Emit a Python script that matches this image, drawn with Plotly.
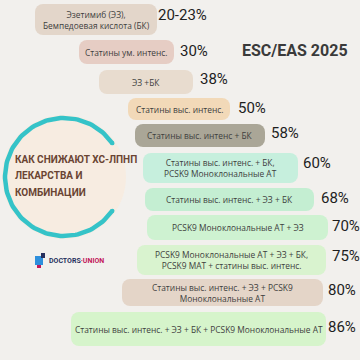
import numpy as np
import plotly.graph_objects as go

# ---------------- data ----------------
categories = [
    "Эзетимиб (ЭЗ),<br>Бемпедоевая кислота (БК)",
    "Статины ум. интенс.",
    "ЭЗ +БК",
    "Статины выс. интенс.",
    "Статины выс. интенс + БК",
    "Статины выс. интенс. + БК,<br>PCSK9 Моноклональные АТ",
    "Статины выс. интенс. + ЭЗ + БК",
    "PCSK9 Моноклональные АТ + ЭЗ",
    "PCSK9 Моноклональные АТ + ЭЗ + БК,<br>PCSK9 MAT + статины выс. интенс.",
    "Статины выс. интенс. + ЭЗ + PCSK9<br>Моноклональные АТ",
    "Статины выс. интенс. + ЭЗ + БК + PCSK9 Моноклональные АТ",
]
reduction_labels = ["20-23%", "30%", "38%", "50%", "58%", "60%", "68%", "70%", "75%", "80%", "86%"]
title_lines = ["КАК СНИЖАЮТ ХС-ЛПНП", "ЛЕКАРСТВА И", "КОМБИНАЦИИ"]
subtitle = "ESC/EAS 2025"

# ---------------- layout geometry (pixels) ----------------
bar_left = [35, 79, 99, 128, 135, 143, 145, 147, 137, 122, 71]
bar_right = [157, 174, 193, 230, 265, 298, 314, 328, 326, 323, 326]
bar_top = [4, 40, 70, 98, 124, 153, 188, 215, 245, 279, 312]
bar_bottom = [35, 64, 94, 120, 147, 183, 211, 240, 275, 306, 346]
label_x = [158, 180, 200, 238, 271, 303, 321, 332, 332, 328, 328]
label_y = [16, 52, 80, 109, 134, 164, 199, 227, 257, 291, 328]
bar_colors = ["#e3d6ca", "#e6cdc4", "#e8dccf", "#f2d9b8", "#aaa697", "#c6efdd",
              "#c4eed2", "#cef2d1", "#d9f3cf", "#e4d5c8", "#d6f4cb"]

widths = [r - l for l, r in zip(bar_left, bar_right)]
centers = [(t + b) / 2 for t, b in zip(bar_top, bar_bottom)]
thick = [b - t for t, b in zip(bar_top, bar_bottom)]
mids = [(l + r) / 2 for l, r in zip(bar_left, bar_right)]

COND = "Roboto, Liberation Sans, sans-serif"
fig = go.Figure()

# circle background + teal arc
cx, cy, r = 64, 177, 59
shapes = [dict(type="circle", xref="x", yref="y", x0=cx - 62, x1=cx + 62, y0=cy - 62, y1=cy + 62,
               fillcolor="#f7ece1", line=dict(width=0), layer="below")]
t = np.radians(np.linspace(35, 325, 120))
fig.add_trace(go.Scatter(x=cx + r * np.cos(t), y=cy + r * np.sin(t), mode="lines",
                         line=dict(color="#35c3c8", width=4.5), hoverinfo="skip", showlegend=False))
for ang in (35, 325):
    ex, ey = cx + r * np.cos(np.radians(ang)), cy + r * np.sin(np.radians(ang))
    shapes.append(dict(type="circle", xref="x", yref="y", x0=ex - 2.2, x1=ex + 2.2, y0=ey - 2.2, y1=ey + 2.2,
                       fillcolor="#35c3c8", line=dict(width=0)))

# bars
fig.add_trace(go.Bar(
    orientation="h", y=centers, x=widths, base=bar_left, width=thick,
    marker=dict(color=bar_colors, line=dict(width=0)),
    hoverinfo="skip", showlegend=False,
))

annotations = []
for cat, mx, my in zip(categories, mids, centers):
    annotations.append(dict(x=mx, y=my, xref="x", yref="y", text=cat, showarrow=False,
                            xanchor="center", yanchor="middle", align="center",
                            font=dict(family="Open Sans, Noto Sans, sans-serif", size=8.4, color="#3e3e3e")))

# percentage labels
fig.add_trace(go.Scatter(
    x=label_x, y=label_y, mode="text", text=reduction_labels, textposition="middle right",
    textfont=dict(family=COND, size=15, color="#1e1e1e"),
    hoverinfo="skip", showlegend=False,
))

for i, line in enumerate(title_lines):
    annotations.append(dict(x=13, y=159 + i * 16.5, xref="x", yref="y", text="<b>" + line + "</b>",
                            showarrow=False, xanchor="left", yanchor="middle",
                            font=dict(family=COND, size=10, color="#6a4433")))
annotations.append(dict(x=295, y=50, xref="x", yref="y", text="<b>" + subtitle + "</b>", showarrow=False,
                        xanchor="center", yanchor="middle",
                        font=dict(family=COND, size=16, color="#3a3a3a")))
# logo
shapes += [
    dict(type="rect", xref="x", yref="y", x0=35, x1=43, y0=256, y1=265, fillcolor="#2e8fdc", line=dict(width=0)),
    dict(type="rect", xref="x", yref="y", x0=41, x1=45, y0=253, y1=258, fillcolor="#27305e", line=dict(width=0)),
    dict(type="rect", xref="x", yref="y", x0=37, x1=41, y0=265, y1=268, fillcolor="#c2185b", line=dict(width=0)),
]
annotations.append(dict(x=47, y=261, xref="x", yref="y",
                        text="<b><span style='color:#27305e'>DOCTORS</span><span style='color:#c2185b'>·UNION</span></b>",
                        showarrow=False, xanchor="left", yanchor="middle",
                        font=dict(family="Roboto, sans-serif", size=7)))

fig.update_layout(
    width=360, height=360, margin=dict(l=0, r=0, t=0, b=0),
    paper_bgcolor="#f2f0ed", plot_bgcolor="#f2f0ed",
    barcornerradius=8, shapes=shapes, annotations=annotations,
    xaxis=dict(range=[0, 360], visible=False, fixedrange=True),
    yaxis=dict(range=[360, 0], visible=False, fixedrange=True),
    showlegend=False,
)
fig.write_html("out.html", config={"displayModeBar": False})
